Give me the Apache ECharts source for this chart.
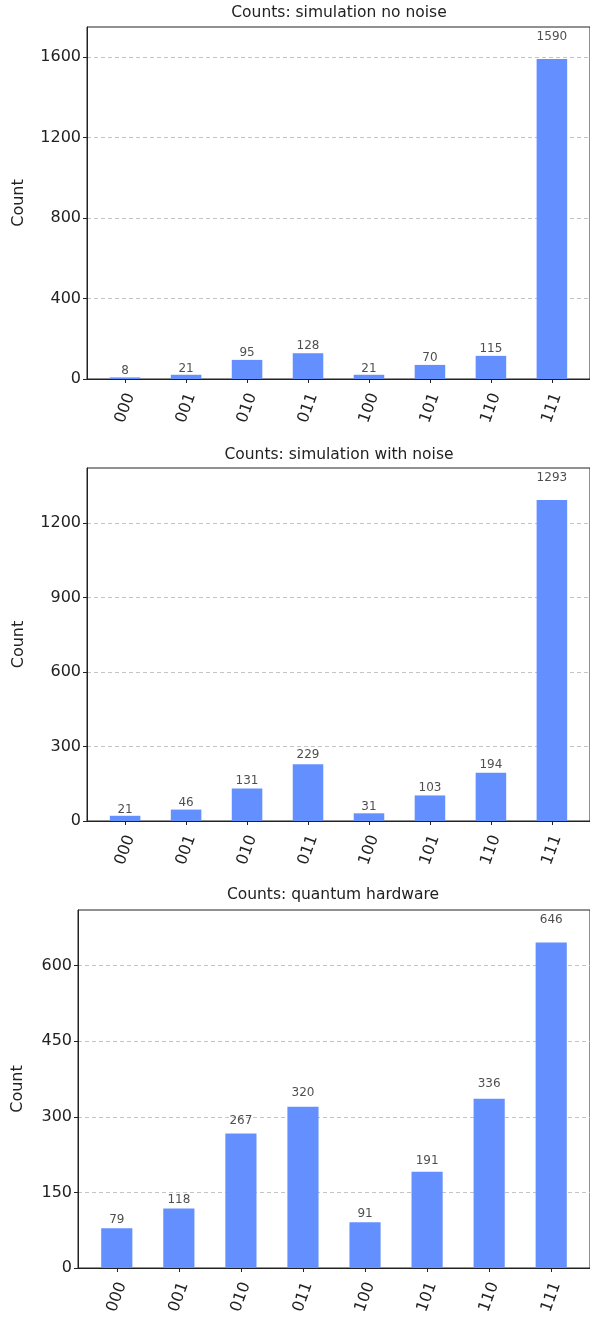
<!DOCTYPE html>
<html>
<head>
<meta charset="utf-8">
<script src="https://cdn.jsdelivr.net/npm/echarts@6/dist/echarts.min.js"></script>
<style>
  html, body { margin: 0; padding: 0; background: #fff; }
  #chart { width: 590px; height: 1317px; }
</style>
</head>
<body>
<div id="chart"></div>
<script>
// Measurement outcomes (bitstrings) and their counts for each run
const states = ['000', '001', '010', '011', '100', '101', '110', '111'];
const countsNoNoise = [8, 21, 95, 128, 21, 70, 115, 1590];
const countsWithNoise = [21, 46, 131, 229, 31, 103, 194, 1293];
const countsHardware = [79, 118, 267, 320, 91, 191, 336, 646];

const titles = [
  'Counts: simulation no noise',
  'Counts: simulation with noise',
  'Counts: quantum hardware'
];

// Y tick values for each panel
const yTicksNoNoise = [0, 400, 800, 1200, 1600];
const yTicksWithNoise = [0, 300, 600, 900, 1200];
const yTicksHardware = [0, 150, 300, 450, 600];

const FONT = 'DejaVu Sans';
const BAR_COLOR = '#648fff';
const INK = '#222';

// panel geometry (pixels)
const panels = [
  { data: countsNoNoise, ticks: yTicksNoNoise, left: 87, width: 504, top: 27, height: 352, titleTop: 5 },
  { data: countsWithNoise, ticks: yTicksWithNoise, left: 87, width: 504, top: 468, height: 353, titleTop: 447 },
  { data: countsHardware, ticks: yTicksHardware, left: 78, width: 514, top: 910, height: 358, titleTop: 887 }
];

// x range: bars of width 0.5 centred on integers, plus 5% margin
const XMIN = -0.625, XMAX = 7.625;
const idx = states.map((_, i) => i);

const barSeries = panels.map((p, k) => ({
  type: 'bar',
  xAxisIndex: k,
  yAxisIndex: k,
  data: p.data.map((v, i) => [i, v]),
  barWidth: 0.5 * p.width / (XMAX - XMIN),
  itemStyle: { color: BAR_COLOR },
  z: 3
}));

// value labels sit just above each bar, at 1.05 × the count
const labelSeries = panels.map((p, k) => ({
  type: 'scatter',
  xAxisIndex: k,
  yAxisIndex: k,
  symbolSize: 0,
  silent: true,
  data: p.data.map((v, i) => ({ value: [i, v * 1.05], count: v })),
  label: {
    show: true,
    position: 'top',
    distance: 0,
    formatter: d => String(d.data.count),
    fontFamily: FONT, fontSize: 12, color: INK
  },
  z: 4
}));

const option = {
  animation: false,
  backgroundColor: '#fff',
  textStyle: { fontFamily: FONT },
  title: panels.map((p, k) => ({
    text: titles[k],
    left: p.left + p.width / 2 - (k === 2 ? 2 : 0),
    top: p.titleTop,
    textAlign: 'center',
    padding: 0,
    textStyle: { fontFamily: FONT, fontSize: 15.5, fontWeight: 'normal', color: INK }
  })),
  grid: panels.map(p => ({
    left: p.left, top: p.top, width: p.width, height: p.height,
    show: true, borderColor: '#222', borderWidth: 1, backgroundColor: 'transparent',
    containLabel: false
  })),
  xAxis: panels.map((p, k) => ({
    type: 'value',
    gridIndex: k,
    min: XMIN, max: XMAX,
    axisLine: { show: true, onZero: false, lineStyle: { color: '#222', width: 1 } },
    axisTick: { show: true, customValues: idx, length: 4, lineStyle: { color: '#222' } },
    axisLabel: {
      show: true,
      customValues: idx,
      formatter: v => states[Math.round(v)],
      rotate: 70,
      align: 'center',
      verticalAlign: 'middle',
      margin: 29,
      fontFamily: FONT, fontSize: 16, color: INK
    },
    splitLine: { show: false }
  })),
  yAxis: panels.map((p, k) => ({
    type: 'value',
    gridIndex: k,
    min: 0,
    max: Math.max(...p.data) * 1.1,
    name: 'Count',
    nameLocation: 'middle',
    nameGap: 60 - (k === 2 ? 8 : 0),
    nameTextStyle: { fontFamily: FONT, fontSize: 16, color: INK },
    axisLine: { show: true, onZero: false, lineStyle: { color: '#222', width: 1 } },
    axisTick: { show: true, customValues: p.ticks, length: 4, lineStyle: { color: '#222' } },
    axisLabel: {
      customValues: p.ticks,
      formatter: v => String(v),
      margin: 6,
      fontFamily: FONT, fontSize: 16, color: INK
    },
    splitLine: {
      show: true,
      lineStyle: { color: '#c4c4c4', type: [4, 3], width: 1 }
    }
  })),
  series: barSeries.concat(labelSeries)
};

const chart = echarts.init(document.getElementById('chart'), null, { renderer: 'canvas' });
chart.setOption(option);
</script>
</body>
</html>
